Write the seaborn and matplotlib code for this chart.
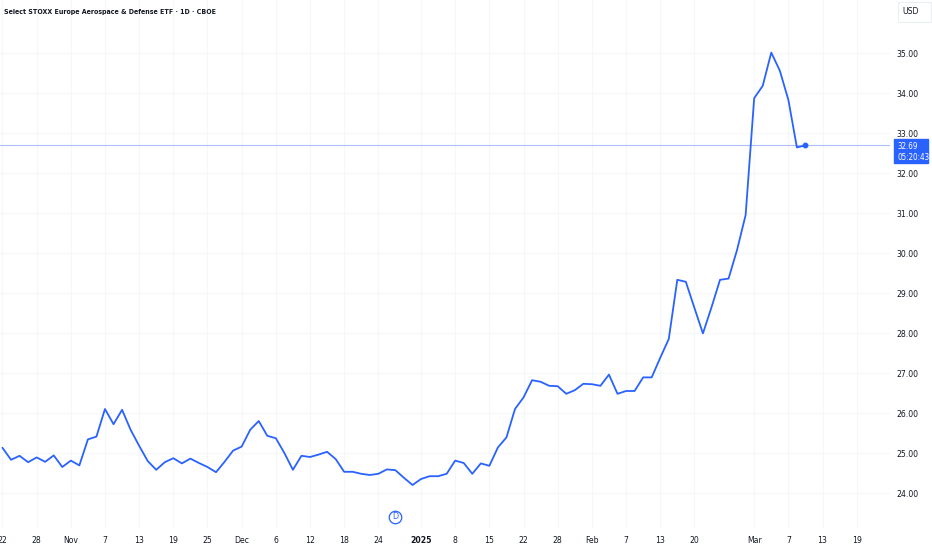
import pandas as pd
import numpy as np
import matplotlib.pyplot as plt
import matplotlib.transforms as mtransforms
from matplotlib.patches import Rectangle
from matplotlib import font_manager
from matplotlib.font_manager import FontProperties
import seaborn as sns

# -- data (daily closes)
holidays = ["2024-11-28", "2024-12-25", "2025-01-01", "2025-01-09", "2025-01-20", "2025-02-17"]
prices = [25.13, 24.83, 24.93, 24.77, 24.89, 24.78, 24.94, 24.65, 24.81, 24.69,
          25.34, 25.41, 26.10, 25.72, 26.08, 25.58, 25.18, 24.80, 24.58, 24.77,
          24.87, 24.74, 24.86, 24.75, 24.65, 24.52, 24.78, 25.06, 25.16, 25.58,
          25.80, 25.43, 25.37, 25.00, 24.58, 24.93, 24.90, 24.96, 25.03, 24.85,
          24.53, 24.53, 24.48, 24.45, 24.48, 24.59, 24.57, 24.38, 24.20, 24.35,
          24.42, 24.42, 24.48, 24.81, 24.75, 24.48, 24.74, 24.68, 25.14, 25.39,
          26.10, 26.39, 26.82, 26.78, 26.68, 26.67, 26.48, 26.57, 26.73, 26.72,
          26.68, 26.96, 26.48, 26.55, 26.55, 26.89, 26.89, 27.38, 27.85, 29.33,
          29.28, 28.63, 27.99, 28.64, 29.33, 29.36, 30.08, 30.95, 33.87, 34.18,
          35.01, 34.56, 33.83, 32.64, 32.69]
tick_dates = ["2024-10-22", "2024-10-28", "2024-11-01", "2024-11-07", "2024-11-13",
              "2024-11-19", "2024-11-25", "2024-12-02", "2024-12-06", "2024-12-12",
              "2024-12-18", "2024-12-24", "2025-01-02", "2025-01-08", "2025-01-15",
              "2025-01-22", "2025-01-28", "2025-02-03", "2025-02-07", "2025-02-13",
              "2025-02-20", "2025-03-03", "2025-03-07", "2025-03-13", "2025-03-19"]
tick_labels = ["22", "28", "Nov", "7", "13", "19", "25", "Dec", "6", "12", "18", "24",
               "2025", "8", "15", "22", "28", "Feb", "7", "13", "20", "Mar", "7", "13", "19"]
price_levels = [24, 25, 26, 27, 28, 29, 30, 31, 32, 33, 34, 35]
dividend_date = "2024-12-27"
title = "Select STOXX Europe Aerospace & Defense ETF · 1D · CBOE"
last_price = prices[-1]
countdown = "05:20:43"

sessions = pd.bdate_range("2024-10-22", "2025-03-21", freq="C", holidays=holidays)
df = pd.DataFrame({"date": sessions[:len(prices)], "close": prices})
df["bar"] = np.arange(len(df))
tick_pos = sessions.get_indexer(pd.to_datetime(tick_dates))
div_pos = sessions.get_indexer(pd.to_datetime([dividend_date]))[0]

sns.set_style("white")

# narrow font if there is one, else plain sans a bit smaller
names = {f.name for f in font_manager.fontManager.ttflist}
cond = font_manager.findfont(FontProperties(family="DejaVu Sans", stretch="condensed"))
if "Liberation Sans Narrow" in names:
    plt.rcParams['font.family'] = ['Liberation Sans Narrow', 'DejaVu Sans']
    fs, fs_title, fs_tag = 6.6, 5.8, 6.0
elif "Condensed" in cond:
    plt.rcParams['font.family'] = ['DejaVu Sans']
    plt.rcParams['font.stretch'] = 'condensed'
    fs, fs_title, fs_tag = 6.2, 5.0, 5.8
else:
    plt.rcParams['font.family'] = ['Liberation Sans', 'DejaVu Sans']
    fs, fs_title, fs_tag = 6.0, 5.0, 5.4
plt.rcParams['font.size'] = fs

blue = "#2962FF"
txt = "#131722"

fig = plt.figure(figsize=(9.32, 5.5), dpi=100)
ax = fig.add_axes([0, 22 / 550, 890 / 932, 528 / 550])

sns.lineplot(data=df, x="bar", y="close", ax=ax, color=blue, linewidth=1.3)
ax.plot(df["bar"].iloc[-1], last_price, "o", color=blue, ms=3.2)
ax.axhline(last_price, color="#aebff5", lw=0.8, zorder=1)

ax.set_xlim(-0.29, 103.9)
ax.set_ylim(23.125, 36.325)
ax.set_xticks(tick_pos)
ax.set_xticklabels(tick_labels, color=txt)
for lab in ax.get_xticklabels():
    if lab.get_text() == "2025":
        lab.set_fontweight("bold")
ax.yaxis.tick_right()
ax.set_yticks(price_levels)
ax.set_yticklabels([f"{v:.2f}" for v in price_levels], color=txt)
ax.tick_params(axis="both", length=0)
ax.tick_params(axis="y", pad=4.5)
ax.tick_params(axis="x", pad=6)
ax.grid(True, color="#f6f7f9", lw=0.8)
ax.set_xlabel("")
ax.set_ylabel("")
for s in ax.spines.values():
    s.set_visible(False)

# dividend marker
dtrans = mtransforms.blended_transform_factory(ax.transData, ax.transAxes)
ax.plot(div_pos, 0.021, "o", ms=9, mfc="white", mec=blue, mew=0.9,
        transform=dtrans, clip_on=False)
ax.text(div_pos, 0.021, "D", color=blue, fontsize=6.5, ha="center", va="center",
        transform=dtrans)

# last price label on the scale
ptrans = mtransforms.blended_transform_factory(fig.transFigure, ax.transData)
ax.add_patch(Rectangle((894 / 932, 32.25), 34 / 932, 0.6, transform=ptrans,
                       color=blue, clip_on=False, zorder=5))
ax.text(897 / 932, 32.665, f"{last_price:.2f}", transform=ptrans, color="white",
        va="center", ha="left", zorder=6, clip_on=False, fontsize=fs_tag)
ax.text(897 / 932, 32.39, countdown, transform=ptrans, color="white",
        va="center", ha="left", zorder=6, clip_on=False, fontsize=fs_tag)

# currency box and title
fig.patches.append(Rectangle((898 / 932, 1 - 22 / 550), 33 / 932, 20 / 550,
                             transform=fig.transFigure, fill=False,
                             ec="#eceef2", lw=0.8))
fig.text(902 / 932, 1 - 12 / 550, "USD", color=txt, va="center", ha="left")
fig.text(4 / 932, 1 - 12 / 550, title, color=txt, fontweight="bold",
         va="center", ha="left", fontsize=fs_title)

plt.savefig("out.png", dpi=100)
